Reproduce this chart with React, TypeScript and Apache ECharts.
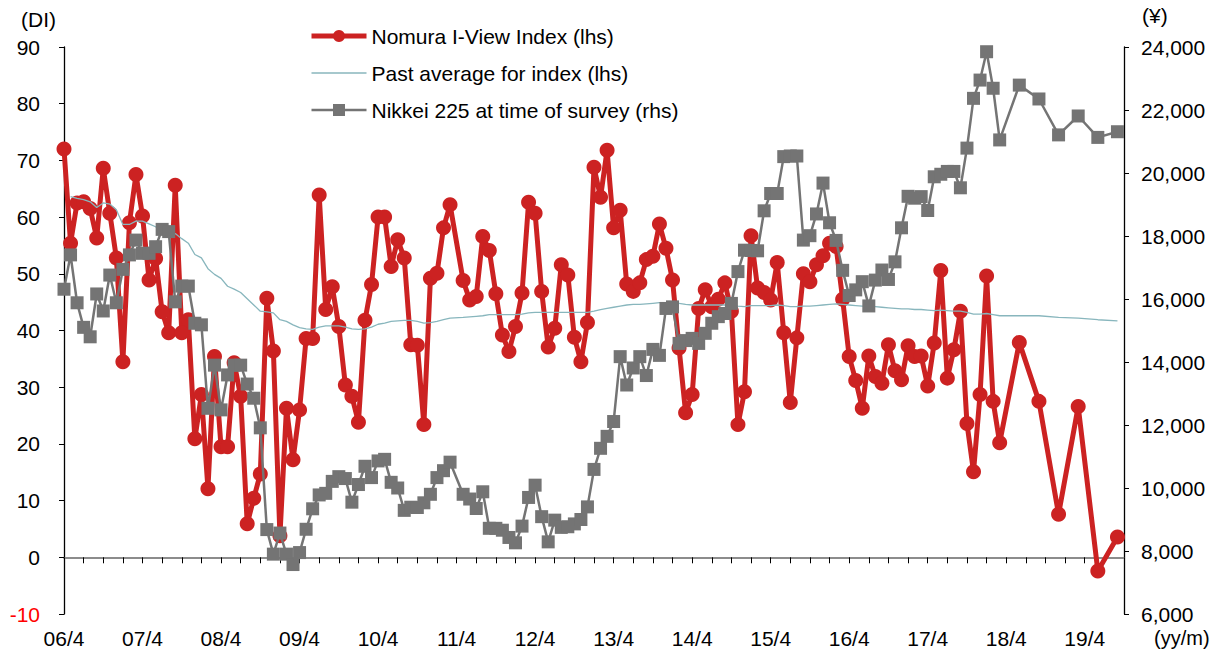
import React, { useEffect, useRef } from "react";
import * as echarts from "echarts";

// ---- categories: monthly from 2006/4 to 2019/10 ----
const START_YEAR = 2006;
const START_MONTH = 4;
const MONTH_COUNT = 163;
const months: string[] = [];
for (let i = 0; i < MONTH_COUNT; i++) {
  const t = START_MONTH - 1 + i;
  const y = START_YEAR + Math.floor(t / 12);
  const m = (t % 12) + 1;
  months.push(String(y % 100).padStart(2, "0") + "/" + m);
}

// ---- Nomura I-View Index (DI), monthly 06/4 .. 18/3 (null = no survey) ----
const iviewMonthly: (number | null)[] = [
  72, 55.4, 62.5, 62.7, 61.5, 56.3, 68.6, 60.7, 52.8, 34.5,
  59.0, 67.5, 60.2, 48.9, 52.7, 43.3, 39.6, 65.6, 39.6, 41.9,
  20.9, 28.7, 12.1, 35.4, 19.5, 19.5, 34.3, 28.4, 5.9, 10.4,
  14.7, 45.7, 36.4, 3.8, 26.3, 17.2, 26.0, 38.6, 38.6, 63.9,
  43.7, 47.7, 40.7, 30.4, 28.4, 23.8, 41.8, 48.1, 60.0, 60.0,
  51.3, 56.0, 52.8, 37.5, 37.4, 23.4, 49.2, 50.1, 58.1, 62.2,
  null, 48.8, 45.4, 46.0, 56.6, 54.1, 46.5, 39.2, 36.3, 40.7,
  46.6, 62.6, 60.7, 46.9, 37.1, 40.4, 51.6, 49.8, 38.8, 34.5,
  41.4, 68.8, 63.5, 71.8, 58.1, 61.2, 48.2, 46.9, 48.4, 52.5,
  53.1, 58.8, 54.5, 48.9, 36.9, 25.5, 28.7, 43.9, 47.2, 44.2,
  45.5, 48.4, 43.4, 23.4, 29.2, 56.7, 47.5, 46.7, 45.4, 52.0,
  39.6, 27.3, 38.7, 50.0, 48.6, 51.6, 53.2, 55.4, 54.8, 45.5,
  35.4, 31.2, 26.3, 35.5, 31.9, 30.7, 37.5, 32.9, 31.3, 37.3,
  35.4, 35.5, 30.2, 37.8, 50.6, 31.6, 36.6, 43.4, 23.6, 15.1,
  28.7, 49.6, 27.5, 20.2,
];
// quarterly surveys 18/6, 18/9, 18/12, 19/3, 19/6, 19/9
const iviewQuarterly = [37.9, 27.5, 7.6, 26.6, -2.4, 3.6];

// ---- Past average for index (DI) ----
const avgMonthly: (number | null)[] = [
  null, 63.6, 63.3, 63.1, 62.7, 61.7, 62.5, 62.3, 61.3, 58.7,
  58.7, 59.3, 59.3, 58.8, 58.3, 57.4, 56.9, 57.1, 56.2, 55.4,
  53.4, 52.8, 50.9, 49.9, 49.2, 47.8, 47.3, 46.7, 45.6, 44.5,
  43.4, 43.3, 43.1, 41.9, 41.6, 41.0, 40.5, 40.3, 40.2, 40.6,
  40.8, 40.8, 40.8, 40.6, 40.3, 40.2, 40.3, 40.6, 41.1, 41.3,
  41.6, 41.7, 41.8, 41.8, 41.6, 41.3, 41.4, 41.6, 41.9, 42.2,
  null, 42.3, 42.4, 42.5, 42.6, 42.8, 42.8, 42.8, 42.8, 42.8,
  42.9, 43.1, 43.2, 43.2, 43.2, 43.2, 43.2, 43.2, 43.2, 43.2,
  43.2, 43.4, 43.7, 43.9, 44.1, 44.3, 44.5, 44.6, 44.6, 44.7,
  44.8, 44.9, 44.9, 44.9, 44.8, 44.6, 44.5, 44.5, 44.5, 44.5,
  44.5, 44.5, 44.5, 44.3, 44.2, 44.4, 44.4, 44.4, 44.4, 44.5,
  44.4, 44.2, 44.2, 44.3, 44.3, 44.4, 44.5, 44.6, 44.7, 44.6,
  44.5, 44.4, 44.3, 44.3, 44.2, 44.1, 44.0, 43.9, 43.8, 43.8,
  43.7, 43.7, 43.6, 43.5, 43.6, 43.5, 43.4, 43.4, 43.2, 42.9,
  42.9, 43.0, 42.8, 42.6,
];
const avgQuarterly = [42.6, 42.6, 42.3, 42.2, 41.9, 41.7];

// ---- Nikkei 225 at time of survey (yen) ----
const nikkeiMonthly: (number | null)[] = [
  16310, 17400, 15880, 15100, 14800, 16160, 15620, 16760, 15880, 16940,
  17400, 17870, 17450, 17450, 17660, 18210, 18140, 15910, 16410, 16410,
  15230, 15180, 12530, 13900, 12480, 13590, 13900, 13900, 13300, 12850,
  11910, 8680, 7900, 8570, 7900, 7570, 7950, 8690, 9340, 9780,
  9830, 10210, 10360, 10300, 9550, 10110, 10690, 10330, 10860, 10910,
  10180, 10000, 9290, 9390, 9380, 9530, 9800, 10330, 10550, 10820,
  null, 9800, 9650, 9350, 9880, 8720, 8720, 8660, 8430, 8260,
  8790, 9700, 10090, 9090, 8290, 8980, 8750, 8770, 8860, 9000,
  9400, 10590, 11260, 11640, 12110, 14170, 13270, 13810, 14170, 13570,
  14400, 14210, 15700, 15750, 14590, 14680, 14750, 14590, 14910, 15230,
  15440, 15540, 15860, 16870, 17550, 17540, 17530, 18800, 19350, 19350,
  20520, 20540, 20540, 17870, 18010, 18700, 19680, 18420, 17860, 16910,
  16110, 16290, 16550, 15780, 16600, 16920, 16620, 17180, 18260, 19260,
  19200, 19250, 18810, 19880, 19960, 20050, 20050, 19530, 20790, 22370,
  22950, 23850, 22690, 21050,
];
const nikkeiQuarterly = [22790, 22350, 21210, 21810, 21130, 21310];

function fullSeries(monthly: (number | null)[], quarterly: number[]): (number | null)[] {
  const out: (number | null)[] = monthly.slice();
  quarterly.forEach((v) => {
    out.push(null, null, v);
  });
  while (out.length < MONTH_COUNT) out.push(null);
  return out;
}

const FONT = "'Liberation Sans', Arial, sans-serif";
const RED = "#CC2222";
const GRAY = "#747474";
const TEAL = "#88B6BD";

export default function App() {
  const ref = useRef<HTMLDivElement>(null);
  useEffect(() => {
    if (!ref.current) return;
    const chart = echarts.init(ref.current, undefined, { renderer: "svg" });
    const option: any = {
      animation: false,
      textStyle: { fontFamily: FONT },
      grid: { left: 64, right: 90, top: 47, bottom: 37, containLabel: false },
      legend: {
        orient: "vertical",
        left: 304,
        top: 20,
        itemWidth: 55,
        itemHeight: 15,
        itemGap: 15,
        textStyle: { fontSize: 21, color: "#000", fontFamily: FONT, lineHeight: 22 },
        data: [
          { name: "Nomura I-View Index (lhs)", lineStyle: { width: 5, color: RED } },
          { name: "Past average for index (lhs)", itemStyle: { opacity: 0 }, lineStyle: { width: 1.3, color: TEAL } },
          { name: "Nikkei 225 at time of survey (rhs)", lineStyle: { width: 2.5, color: GRAY } },
        ],
      },
      xAxis: [
        {
          type: "category",
          data: months,
          boundaryGap: false,
          position: "bottom",
          axisLine: { show: false, onZero: false },
          axisTick: { show: false },
          splitLine: { show: false },
          axisLabel: { interval: 11, fontSize: 21, color: "#000", margin: 14, fontFamily: FONT },
        },
        {
          type: "category",
          data: months,
          boundaryGap: false,
          position: "bottom",
          axisLine: { show: true, onZero: true, onZeroAxisIndex: 0, lineStyle: { color: "#8C8C8C", width: 2 } },
          axisTick: { show: true, interval: 2, length: 6, lineStyle: { color: "#000", width: 1 } },
          axisLabel: { show: false },
          splitLine: { show: false },
        },
      ],
      yAxis: [
        {
          type: "value",
          min: -10,
          max: 90,
          interval: 10,
          position: "left",
          axisLine: { show: true, onZero: false, lineStyle: { color: "#000", width: 1.3 } },
          axisTick: { show: true, length: 5, lineStyle: { color: "#000" } },
          splitLine: { show: false },
          axisLabel: {
            fontSize: 21,
            margin: 24,
            fontFamily: FONT,
            color: (v: any) => (Number(v) < 0 ? "#FF0000" : "#000"),
          },
        },
        {
          type: "value",
          min: 6000,
          max: 24000,
          interval: 2000,
          position: "right",
          axisLine: { show: true, onZero: false, lineStyle: { color: "#000", width: 1.3 } },
          axisTick: { show: true, length: 5, lineStyle: { color: "#000" } },
          splitLine: { show: false },
          axisLabel: {
            fontSize: 21,
            margin: 17,
            color: "#000",
            fontFamily: FONT,
            formatter: (v: number) => v.toLocaleString("en-US"),
          },
        },
      ],
      graphic: [
        { type: "text", left: 21, top: 9, style: { text: "(DI)", fontSize: 21, fontFamily: FONT, fill: "#000" } },
        { type: "text", left: 1142, top: 5, style: { text: "(¥)", fontSize: 21, fontFamily: FONT, fill: "#000" } },
        { type: "text", left: 1154, top: 628, style: { text: "(yy/m)", fontSize: 20, fontFamily: FONT, fill: "#000" } },
      ],
      series: [
        {
          name: "Nomura I-View Index (lhs)",
          type: "line",
          xAxisIndex: 0,
          yAxisIndex: 0,
          data: fullSeries(iviewMonthly, iviewQuarterly),
          connectNulls: true,
          symbol: "circle",
          symbolSize: 15,
          showAllSymbol: true,
          lineStyle: { color: RED, width: 5 },
          itemStyle: { color: RED },
          z: 2,
        },
        {
          name: "Past average for index (lhs)",
          type: "line",
          xAxisIndex: 0,
          yAxisIndex: 0,
          data: fullSeries(avgMonthly, avgQuarterly),
          connectNulls: true,
          symbol: "none",
          showSymbol: false,
          lineStyle: { color: TEAL, width: 1.3 },
          itemStyle: { color: TEAL },
          z: 3,
        },
        {
          name: "Nikkei 225 at time of survey (rhs)",
          type: "line",
          xAxisIndex: 0,
          yAxisIndex: 1,
          data: fullSeries(nikkeiMonthly, nikkeiQuarterly),
          connectNulls: true,
          symbol: "rect",
          symbolSize: 13,
          showAllSymbol: true,
          lineStyle: { color: GRAY, width: 2.5 },
          itemStyle: { color: GRAY },
          z: 4,
        },
      ],
    };
    chart.setOption(option);
    return () => chart.dispose();
  }, []);
  return (
    <div
      ref={ref}
      style={{ position: "fixed", left: 0, top: 0, width: 1214, height: 651, background: "#fff" }}
    />
  );
}
